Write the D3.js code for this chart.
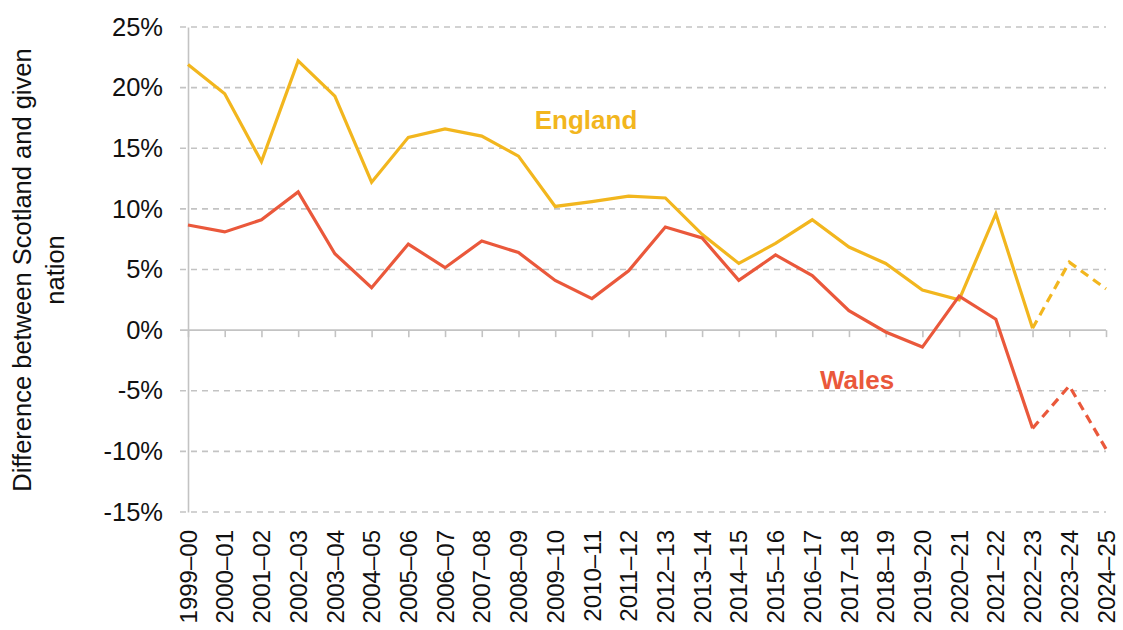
<!DOCTYPE html>
<html><head><meta charset="utf-8">
<script src="https://cdn.jsdelivr.net/npm/d3@7"></script>
<style>body{margin:0;background:#fff}svg{display:block}text{font-family:"Liberation Sans",Arial,sans-serif}</style>
</head><body><svg id="c" width="1123" height="630"></svg>
<script>
const years = ["1999–00","2000–01","2001–02","2002–03","2003–04","2004–05","2005–06","2006–07","2007–08","2008–09","2009–10","2010–11","2011–12","2012–13","2013–14","2014–15","2015–16","2016–17","2017–18","2018–19","2019–20","2020–21","2021–22","2022–23","2023–24","2024–25"];
const england = [21.9,19.5,13.9,22.2,19.3,12.2,15.9,16.6,16.0,14.35,10.2,10.6,11.05,10.9,7.9,5.5,7.15,9.1,6.85,5.5,3.3,2.5,9.6,0.15,5.6,3.4];
const wales = [8.67,8.1,9.1,11.4,6.3,3.5,7.1,5.15,7.35,6.4,4.1,2.6,4.9,8.5,7.6,4.1,6.2,4.5,1.6,-0.15,-1.4,2.8,0.9,-8.1,-4.6,-9.8];
const yTicks = [-15,-10,-5,0,5,10,15,20,25];
const projectedFrom = "2022–23";
const seriesNames = ["England","Wales"];
const colors = {England:"#F2B61E", Wales:"#EA583B"};

const svg = d3.select("#c");
const x = d3.scalePoint().domain(years).range([188,1106]).padding(0);
const y = d3.scaleLinear().domain([-15,25]).range([512,27]);

// gridlines
svg.append("g").selectAll("line").data(yTicks.filter(d=>d!==0)).join("line")
  .attr("x1",180).attr("x2",1106).attr("y1",d=>y(d)).attr("y2",d=>y(d))
  .attr("stroke","#c3c3c3").attr("stroke-width",1.6).attr("stroke-dasharray","6,5");

// y axis
const yAxis = d3.axisLeft(y).tickValues(yTicks).tickSize(0).tickPadding(25).tickFormat(d=>d+"%");
const ya = svg.append("g").attr("transform","translate(188,0)").call(yAxis);
ya.select(".domain").attr("stroke","#c3c3c3").attr("stroke-width",1.6);
ya.selectAll("text").attr("font-size",25.5).attr("fill","#111");

// zero axis with ticks
const xAxis = d3.axisBottom(x).tickSize(7).tickSizeOuter(0).tickFormat("");
const xa = svg.append("g").attr("transform",`translate(0,${y(0)})`).call(xAxis);
xa.select(".domain").attr("stroke","#c3c3c3").attr("stroke-width",1.6).attr("d",`M180,0H1106`);
xa.selectAll(".tick line").attr("stroke","#c3c3c3").attr("stroke-width",1.6);

// x labels at bottom
svg.append("g").selectAll("text").data(years).join("text")
  .attr("transform",d=>`translate(${x(d)},530) rotate(-90)`)
  .attr("dy","0.36em")
  .attr("text-anchor","end").attr("font-size",24).attr("fill","#111").text(d=>d);

// y title
const yt = svg.append("text").attr("transform","translate(38,270) rotate(-90)")
  .attr("text-anchor","middle").attr("font-size",25.5).attr("fill","#111");
yt.append("tspan").attr("x",0).attr("y",-7).text("Difference between Scotland and given");
yt.append("tspan").attr("x",0).attr("y",26).text("nation");

// lines
const idx = years.indexOf(projectedFrom);
const line = d3.line().x(d=>x(d.year)).y(d=>y(d.v));
[["England",england],["Wales",wales]].forEach(([name,vals])=>{
  const pts = years.map((yr,i)=>({year:yr,v:vals[i]}));
  svg.append("path").datum(pts.slice(0,idx+1)).attr("d",line).attr("fill","none")
    .attr("stroke",colors[name]).attr("stroke-width",3.2).attr("stroke-linejoin","miter");
  svg.append("path").datum(pts.slice(idx)).attr("d",line).attr("fill","none")
    .attr("stroke",colors[name]).attr("stroke-width",3.2).attr("stroke-dasharray","9,6");
});

// labels
svg.append("text").attr("x",586).attr("y",129).attr("text-anchor","middle")
  .attr("font-size",26).attr("font-weight","bold").attr("fill",colors.England).text(seriesNames[0]);
svg.append("text").attr("x",857).attr("y",389).attr("text-anchor","middle")
  .attr("font-size",26).attr("font-weight","bold").attr("fill",colors.Wales).text(seriesNames[1]);
</script></body></html>
